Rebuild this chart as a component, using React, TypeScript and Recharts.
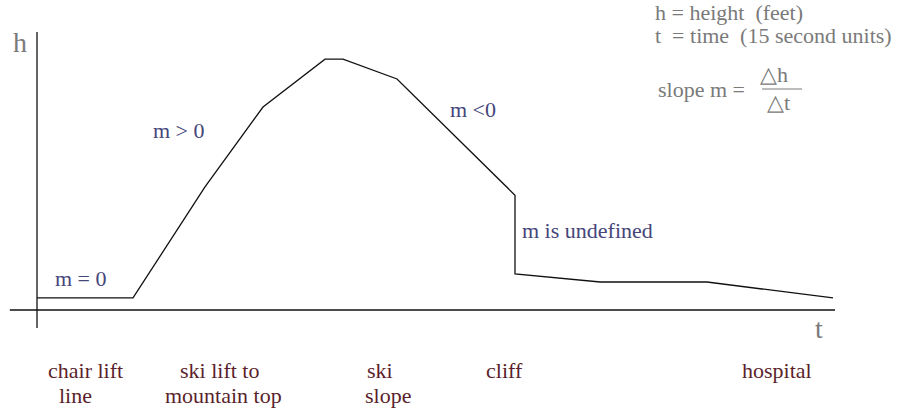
import React from "react";
import { LineChart, Line, XAxis, YAxis, ReferenceLine, Customized } from "recharts";

// time (15 second units) along the run
const times = [0, 12, 21, 28.25, 36, 38.25, 45, 59.75, 59.75, 70.4, 83.75, 99.5];
// height (feet, relative) at each time
const heights = [4.3, 4.3, 44, 72.5, 89.6, 89.6, 82.5, 41, 12.9, 10, 10, 4.3];

const slopeNotes = [
  { text: "m = 0", x: 55, y: 286 },
  { text: "m > 0", x: 153, y: 138 },
  { text: "m <0", x: 450, y: 117 },
  { text: "m is undefined", x: 522, y: 238 },
];

const stageLabels = [
  { lines: ["chair lift", "line"], x: [48, 59] },
  { lines: ["ski lift to", "mountain top"], x: [180, 165] },
  { lines: ["ski", "slope"], x: [367, 365] },
  { lines: ["cliff"], x: [486] },
  { lines: ["hospital"], x: [742] },
];

const data = times.map((t, i) => ({ t, h: heights[i] }));

const SERIF = '"Liberation Serif", "Times New Roman", serif';
const GREY = "#7a7a7a";
const NOTE = "#45457a";
const STAGE = "#5c1f2c";
const NB = "\u00a0";

function Annotations() {
  return (
    <g fontFamily={SERIF}>
      <text x={13} y={52} fontSize={28} fill={GREY}>h</text>
      <text x={815} y={338} fontSize={28} fill={GREY}>t</text>

      <g fontSize={22} fill={GREY}>
        <text x={655} y={20}>{`h = height${NB}${NB}(feet)`}</text>
        <text x={655} y={43}>{`t${NB}${NB}= time${NB}${NB}(15 second units)`}</text>
        <text x={658} y={97}>slope m =</text>
        <text x={760} y={82}>{"△h"}</text>
        <line x1={762} y1={89} x2={802} y2={89} stroke={GREY} strokeWidth={1} />
        <text x={767} y={110}>{"△t"}</text>
      </g>

      {slopeNotes.map((n) => (
        <text key={n.text} x={n.x} y={n.y} fontSize={22} fill={NOTE}>
          {n.text}
        </text>
      ))}

      {stageLabels.map((s) =>
        s.lines.map((line, j) => (
          <text key={line} x={s.x[j]} y={j === 0 ? 378 : 403} fontSize={22} fill={STAGE}>
            {line}
          </text>
        ))
      )}
    </g>
  );
}

export default function App() {
  return (
    <div style={{ position: "absolute", left: 0, top: 0, width: 908, height: 411, background: "#fff" }}>
      <LineChart
        width={908}
        height={411}
        data={data}
        margin={{ top: 30, right: 71, bottom: 101, left: 37 }}
      >
        <XAxis type="number" dataKey="t" domain={[0, 100]} hide />
        <YAxis type="number" domain={[0, 100]} hide />
        {/* axes drawn as plain segments so they can run past the origin */}
        <ReferenceLine
          segment={[{ x: -3.4, y: 0 }, { x: 99.75, y: 0 }]}
          stroke="#111"
          strokeWidth={1.3}
          ifOverflow="visible"
        />
        <ReferenceLine
          segment={[{ x: 0, y: -6.4 }, { x: 0, y: 99.3 }]}
          stroke="#111"
          strokeWidth={1.3}
          ifOverflow="visible"
        />
        <Line
          type="linear"
          dataKey="h"
          stroke="#111"
          strokeWidth={1.3}
          dot={false}
          isAnimationActive={false}
        />
        <Customized component={Annotations} />
      </LineChart>
    </div>
  );
}
